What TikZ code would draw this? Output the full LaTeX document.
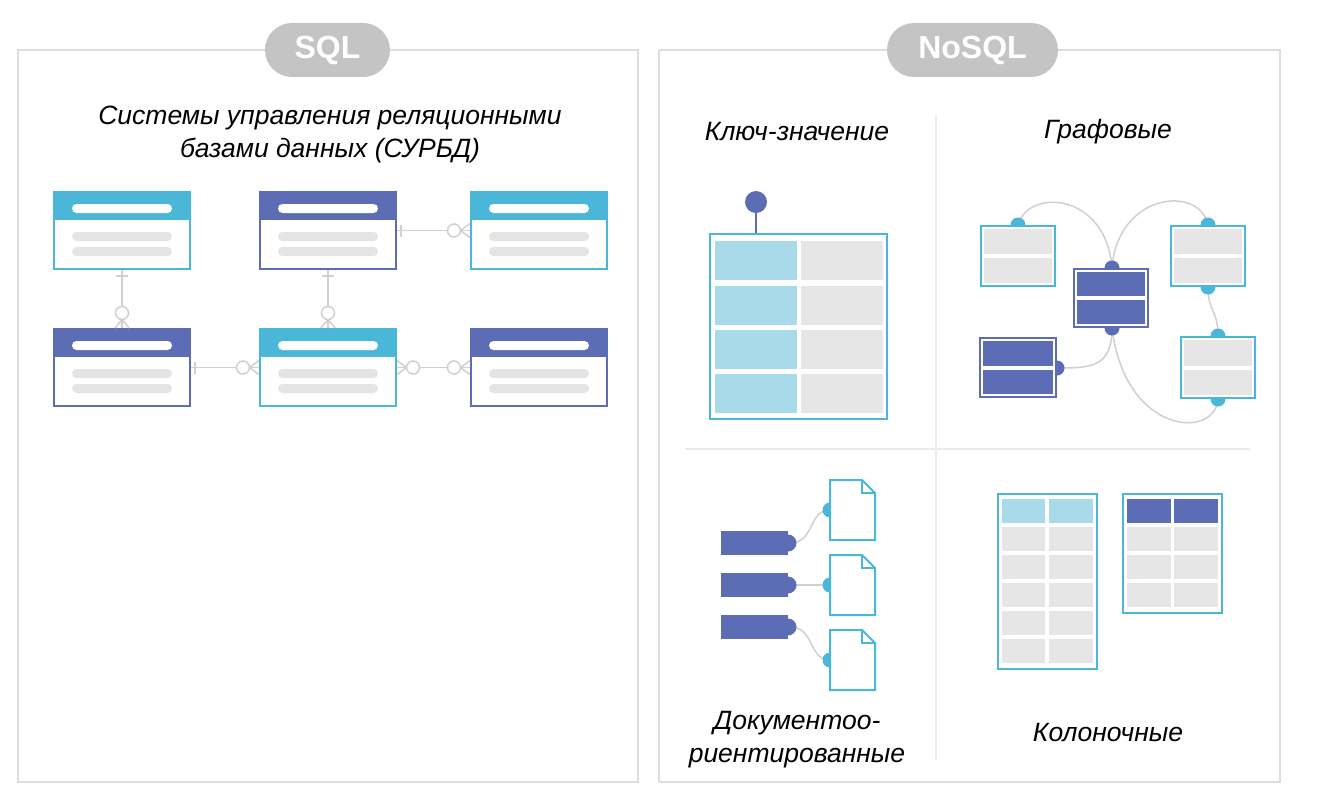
\documentclass[tikz,border=0pt]{standalone}
\usepackage{fontspec}
\setmainfont{Liberation Sans}
\usetikzlibrary{calc}
\definecolor{cy}{HTML}{4BB7D8}
\definecolor{ind}{HTML}{5C6CB5}
\definecolor{lb}{HTML}{A8DAEA}
\definecolor{cellg}{HTML}{E6E6E6}
\definecolor{rowg}{HTML}{E4E4E4}
\definecolor{conn}{HTML}{D0D0D0}
\definecolor{panelc}{HTML}{DDDDDD}
\definecolor{pillc}{HTML}{C4C4C4}
\definecolor{divc}{HTML}{EBEBEB}
\tikzset{
  panel/.style={draw=panelc, line width=1.8pt},
  pillbox/.style={fill=pillc, rounded corners=27pt, text=white, font=\fontsize{32}{36}\selectfont\bfseries, inner sep=0pt},
  label/.style={font=\fontsize{26.5}{33}\selectfont\itshape, align=center, inner sep=0pt},
  sqlbox/.style={line width=2pt, minimum width=136pt, minimum height=77pt, inner sep=0pt},
  connl/.style={draw=conn, line width=1.5pt},
  ocirc/.style={draw=conn, line width=1.5pt, fill=white},
  gline/.style={draw=conn, line width=1.5pt},
  outerbox/.style={line width=2pt, fill=white},
}
\newcommand\sqltab[4]{%
  \fill[#4] (#2,#3) rectangle (#2+138,#3+29);
  \fill[white, rounded corners=4.5pt] (#2+19,#3+13) rectangle (#2+119,#3+22);
  \fill[rowg, rounded corners=4.5pt] (#2+19,#3+41) rectangle (#2+119,#3+50);
  \fill[rowg, rounded corners=4.5pt] (#2+19,#3+56) rectangle (#2+119,#3+65);
  \node[sqlbox, draw=#4] (#1) at (#2+69,#3+39.5) {};
}
% graph box: name, L, T, W, H, border colour, cell colour
\newcommand\gbox[7]{%
  \node[outerbox, draw=#6, minimum width=#4pt-2pt, minimum height=#5pt-2pt, inner sep=0pt] (#1) at (#2+#4/2,#3+#5/2) {};
  \fill[#7] (#2+4,#3+4) rectangle (#2+#4-4,#3+#5/2-2);
  \fill[#7] (#2+4,#3+#5/2+2) rectangle (#2+#4-4,#3+#5-4);
}
\begin{document}
\begin{tikzpicture}[x=1pt,y=-1pt]
\useasboundingbox (0,0) rectangle (1320,800);
\fill[white] (0,0) rectangle (1320,800);

% panels
\draw[panel] (18,50) rectangle (638,782);
\draw[panel] (659,50) rectangle (1280,782);
\node[pillbox, minimum width=125pt, minimum height=54pt] (sqlpill) at (327.5,50) {SQL};
\node[pillbox, minimum width=171pt, minimum height=54pt] (nosqlpill) at (972.5,50) {NoSQL};

% dividers
\draw[divc, line width=1.5pt] (936,115) -- (936,760);
\draw[divc, line width=1.5pt] (685,449) -- (1250,449);

% labels
\node[label] (rdbms) at (330,134) {Системы управления реляционными\\базами данных (СУРБД)};
\node[label] (kv) at (797,132) {Ключ-значение};
\node[label] (graph) at (1108,132) {Графовые};
\node[label] (doc) at (797,740) {Документоо-\\риентированные};
\node[label] (col) at (1108,733) {Колоночные};

% ---------- SQL tables ----------
\sqltab{t1}{53}{191}{cy}
\sqltab{t2}{259}{191}{ind}
\sqltab{t5}{470}{191}{cy}
\sqltab{t3}{53}{328}{ind}
\sqltab{t4}{259}{328}{cy}
\sqltab{t6}{470}{328}{ind}

% t1 -> t3 (vertical)
\draw[connl] (t1.south) -- (t3.north);
\draw[connl] ($(t1.south)+(-6,6)$) -- ($(t1.south)+(6,6)$);
\draw[ocirc] ($(t3.north)+(0,-15)$) circle (6.5);
\draw[connl] ($(t3.north)+(0,-8.5)$) -- ($(t3.north)+(-7,0)$);
\draw[connl] ($(t3.north)+(0,-8.5)$) -- ($(t3.north)+(7,0)$);
% t2 -> t4 (vertical)
\draw[connl] (t2.south) -- (t4.north);
\draw[connl] ($(t2.south)+(-6,6)$) -- ($(t2.south)+(6,6)$);
\draw[ocirc] ($(t4.north)+(0,-15)$) circle (6.5);
\draw[connl] ($(t4.north)+(0,-8.5)$) -- ($(t4.north)+(-7,0)$);
\draw[connl] ($(t4.north)+(0,-8.5)$) -- ($(t4.north)+(7,0)$);
% t2 -> t5 (horizontal)
\draw[connl] (t2.east) -- (t5.west);
\draw[connl] ($(t2.east)+(4,-6)$) -- ($(t2.east)+(4,6)$);
\draw[ocirc] ($(t5.west)+(-16,0)$) circle (6.5);
\draw[connl] ($(t5.west)+(-9.5,0)$) -- ($(t5.west)+(0,-7)$);
\draw[connl] ($(t5.west)+(-9.5,0)$) -- ($(t5.west)+(0,7)$);
% t3 -> t4 (horizontal)
\draw[connl] (t3.east) -- (t4.west);
\draw[connl] ($(t3.east)+(4,-6)$) -- ($(t3.east)+(4,6)$);
\draw[ocirc] ($(t4.west)+(-16,0)$) circle (6.5);
\draw[connl] ($(t4.west)+(-9.5,0)$) -- ($(t4.west)+(0,-7)$);
\draw[connl] ($(t4.west)+(-9.5,0)$) -- ($(t4.west)+(0,7)$);
% t4 -> t6 (many to many)
\draw[connl] (t4.east) -- (t6.west);
\draw[ocirc] ($(t4.east)+(16,0)$) circle (6.5);
\draw[connl] ($(t4.east)+(9.5,0)$) -- ($(t4.east)+(0,-7)$);
\draw[connl] ($(t4.east)+(9.5,0)$) -- ($(t4.east)+(0,7)$);
\draw[ocirc] ($(t6.west)+(-16,0)$) circle (6.5);
\draw[connl] ($(t6.west)+(-9.5,0)$) -- ($(t6.west)+(0,-7)$);
\draw[connl] ($(t6.west)+(-9.5,0)$) -- ($(t6.west)+(0,7)$);

% ---------- Key-value ----------
\node[outerbox, draw=cy, minimum width=177pt, minimum height=185pt, inner sep=0pt] (kvtab) at (798.5,326.5) {};
\foreach \r/\yy in {1/241,2/285.5,3/330,4/374}{
  \fill[lb] (715,\yy) rectangle (797,\yy+39);
  \fill[cellg] (801,\yy) rectangle (883,\yy+39);
}
\node[circle, fill=ind, minimum size=22pt, inner sep=0pt] (pin) at (756,202) {};
\draw[ind, line width=2pt] (pin.south) -- (756,233);

% ---------- Graph ----------
\coordinate (aT) at (1018,225);
\coordinate (bT) at (1112,268);
\coordinate (bB) at (1112,328);
\coordinate (cT) at (1208,225);
\coordinate (cB) at (1208,287);
\coordinate (dR) at (1057,368);
\coordinate (eT) at (1218,336);
\coordinate (eB) at (1218,399);
\draw[gline] (aT) .. controls (1028,188) and (1106,192) .. (bT);
\draw[gline] (bT) .. controls (1118,192) and (1200,185) .. (cT);
\draw[gline] (cB) .. controls (1208,312) and (1218,310) .. (eT);
\draw[gline] (bB) .. controls (1112,368) and (1090,368) .. (dR);
\draw[gline] (bB) .. controls (1125,435) and (1215,440) .. (eB);
\foreach \p in {aT,cT,cB,eT,eB}{\fill[cy] (\p) circle (7.5);}
\foreach \p in {bT,bB,dR}{\fill[ind] (\p) circle (7.5);}
\gbox{ga}{980}{225}{76}{62}{cy}{cellg}
\gbox{gb}{1073}{268}{76}{60}{ind}{ind}
\gbox{gc}{1170}{225}{76}{62}{cy}{cellg}
\gbox{gd}{979}{337}{78}{61}{ind}{ind}
\gbox{ge}{1180}{336}{76}{63}{cy}{cellg}

% ---------- Document ----------
\foreach \i/\by/\dy/\dt in {1/543/510/480, 2/585/585/555, 3/627/660/630}{
  \draw[gline] (790,\by) .. controls (815,\by) and (808,\dy) .. (830,\dy);
  \fill[ind] (788,\by) circle (8.5);
  \fill[ind] (721,\by-12) rectangle (788,\by+12);
  \fill[cy] (830,\dy) circle (7.5);
  \draw[cy, line width=2pt, fill=white, line join=miter] (830,\dt) -- (862,\dt) -- (875,\dt+13) -- (875,\dt+60) -- (830,\dt+60) -- cycle;
  \draw[cy, line width=2pt] (862,\dt) -- (862,\dt+13) -- (875,\dt+13);
}

% ---------- Columnar ----------
\node[outerbox, draw=cy, minimum width=99pt, minimum height=175pt, inner sep=0pt] (colL) at (1047.5,581.5) {};
\node[outerbox, draw=cy, minimum width=99pt, minimum height=119pt, inner sep=0pt] (colR) at (1172.5,553.5) {};
\foreach \k in {0,...,5}{
  \pgfmathsetmacro\yy{499+28*\k}
  \ifnum\k=0 \def\cc{lb}\else\def\cc{cellg}\fi
  \fill[\cc] (1002,\yy) rectangle (1045,\yy+24);
  \fill[\cc] (1049,\yy) rectangle (1093,\yy+24);
}
\foreach \k in {0,...,3}{
  \pgfmathsetmacro\yy{499+28*\k}
  \ifnum\k=0 \def\cc{ind}\else\def\cc{cellg}\fi
  \fill[\cc] (1127,\yy) rectangle (1171,\yy+24);
  \fill[\cc] (1174,\yy) rectangle (1218,\yy+24);
}
\end{tikzpicture}
\end{document}
